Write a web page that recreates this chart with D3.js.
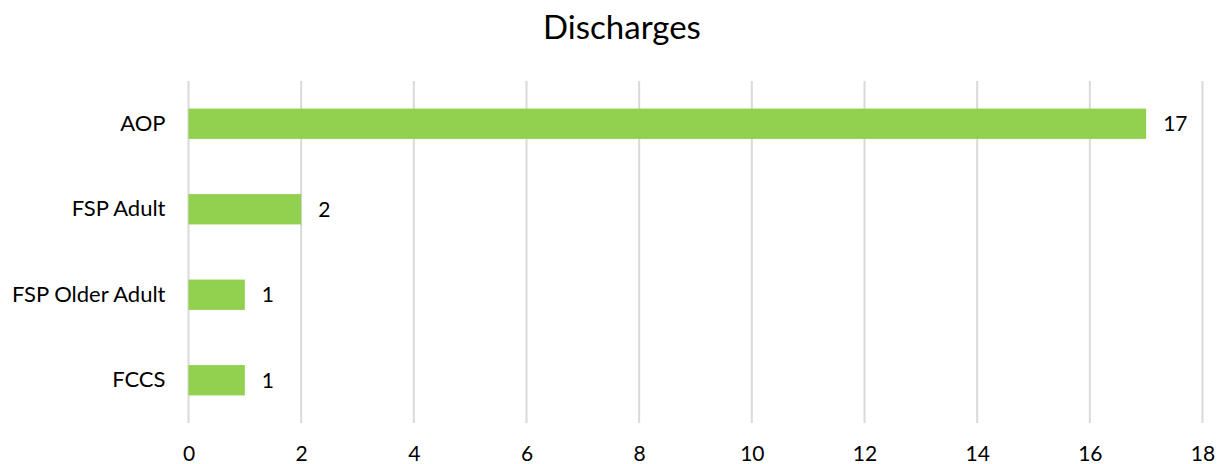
<!DOCTYPE html>
<html>
<head>
<meta charset="utf-8">
<script src="https://cdn.jsdelivr.net/npm/d3@7"></script>
<style>
  body { margin: 0; background: #fff; }
  svg text { font-family: Lato, "Open Sans", sans-serif; fill: #000; }
</style>
</head>
<body>
<svg id="chart" width="1222" height="464"></svg>
<script>
var categories = ["AOP", "FSP Adult", "FSP Older Adult", "FCCS"];
var values = [17, 2, 1, 1];
var xTicks = [0, 2, 4, 6, 8, 10, 12, 14, 16, 18];
var title = "Discharges";

var margin = { left: 188.5, right: 19.5, top: 81, bottom: 41 };
var width = 1222, height = 464;

var svg = d3.select("#chart");

/* Scales */
var x = d3.scaleLinear()
    .domain([0, 18])
    .range([margin.left, width - margin.right]);

var y = d3.scaleBand()
    .domain(categories)
    .range([margin.top, height - margin.bottom])
    .paddingInner(0.645)
    .paddingOuter(0.3225);

/* Title */
svg.append("text")
    .attr("x", 622)
    .attr("y", 39)
    .attr("text-anchor", "middle")
    .style("font-size", "33px")
    .text(title);

/* Gridlines */
svg.append("g").selectAll("line")
    .data(xTicks)
    .enter()
    .append("line")
    .attr("x1", function(d) { return x(d); })
    .attr("x2", function(d) { return x(d); })
    .attr("y1", margin.top)
    .attr("y2", height - margin.bottom)
    .attr("stroke", "#d9d9d9")
    .attr("stroke-width", 2);

/* X axis */
var xAxis = d3.axisBottom(x)
    .tickValues(xTicks)
    .tickSize(0)
    .tickPadding(0);
var gx = svg.append("g")
    .attr("transform", "translate(0," + (height - margin.bottom) + ")")
    .call(xAxis);
gx.select(".domain").remove();
gx.selectAll("text")
    .attr("dy", null)
    .attr("y", 38)
    .style("font-size", "21px")
    .style("font-family", "Lato, 'Open Sans', sans-serif")
    .attr("fill", "#000");

/* Y axis */
var yAxis = d3.axisLeft(y)
    .tickSize(0)
    .tickPadding(23);
var gy = svg.append("g")
    .attr("transform", "translate(" + margin.left + ",0)")
    .call(yAxis);
gy.select(".domain").remove();
gy.selectAll("text")
    .style("font-size", "22px")
    .style("font-family", "Lato, 'Open Sans', sans-serif")
    .attr("fill", "#000");

/* Bars */
var data = categories.map(function(c, i) { return { name: c, value: values[i] }; });

svg.append("g").selectAll("rect")
    .data(data)
    .enter()
    .append("rect")
    .attr("x", x(0))
    .attr("y", function(d) { return y(d.name); })
    .attr("width", function(d) { return x(d.value) - x(0); })
    .attr("height", y.bandwidth())
    .attr("fill", "#92d050");

/* Value labels */
svg.append("g").selectAll("text")
    .data(data)
    .enter()
    .append("text")
    .attr("x", function(d) { return x(d.value) + 17; })
    .attr("y", function(d) { return y(d.name) + y.bandwidth() / 2; })
    .attr("dy", "0.35em")
    .style("font-size", "21px")
    .text(function(d) { return d.value; });
</script>
</body>
</html>
